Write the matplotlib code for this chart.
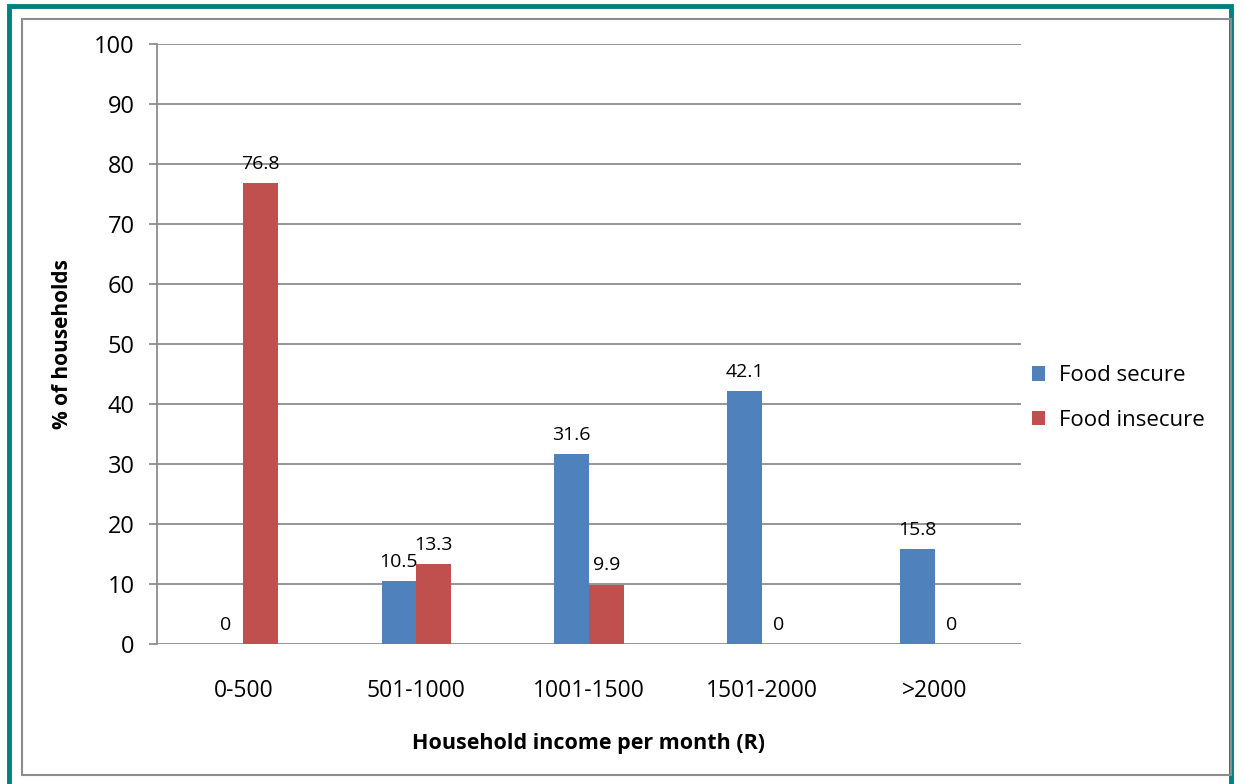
import matplotlib.pyplot as plt
import numpy as np
from matplotlib.patches import Rectangle

categories = ['0-500', '501-1000', '1001-1500', '1501-2000', '>2000']
food_secure = [0, 10.5, 31.6, 42.1, 15.8]
food_insecure = [76.8, 13.3, 9.9, 0, 0]

plt.rcParams['font.family'] = ['Open Sans', 'DejaVu Sans']

W, H = 1244, 784
fig = plt.figure(figsize=(W / 100, H / 100), dpi=100)

# outer teal frame and inner grey frame (drawn in figure pixels)
fig.patches.append(Rectangle((9 / W, -0.05), (1231 - 9) / W, (H - 6 - 0) / H + 0.05,
                             transform=fig.transFigure, fill=False,
                             edgecolor='#008080', linewidth=3.5))
fig.patches.append(Rectangle((22 / W, (H - 775) / H), (1231 - 22) / W, (775 - 19) / H,
                             transform=fig.transFigure, fill=False,
                             edgecolor='#8c8c8c', linewidth=1.5))

ax = fig.add_axes([157 / W, (H - 644) / H, (1021 - 157) / W, (644 - 44) / H])

x = np.arange(len(categories))
bw = 0.2
b1 = ax.bar(x - bw / 2, food_secure, bw, color='#4F81BD', label='Food secure')
b2 = ax.bar(x + bw / 2, food_insecure, bw, color='#C0504D', label='Food insecure')

for bars, vals in ((b1, food_secure), (b2, food_insecure)):
    for rect, v in zip(bars, vals):
        ax.annotate(f'{v:g}', (rect.get_x() + rect.get_width() / 2, v),
                    xytext=(0, 7.5), textcoords='offset points',
                    ha='center', va='bottom', fontsize=14)

ax.set_xlim(-0.5, len(categories) - 0.5)
ax.set_ylim(0, 100)
ax.set_yticks(range(0, 101, 10))
ax.set_xticks(x)
ax.set_xticklabels(categories, fontsize=16.5)
ax.tick_params(axis='y', labelsize=17, length=6, color='#8c8c8c', width=1.3, pad=10)
ax.tick_params(axis='x', length=0, pad=25)
ax.grid(axis='y', color='#8c8c8c', linewidth=1.3)
ax.set_axisbelow(True)
for s in ('top', 'right', 'bottom'):
    ax.spines[s].set_visible(False)
ax.spines['left'].set_color('#8c8c8c')
ax.spines['left'].set_linewidth(1.3)

ax.set_ylabel('% of households', fontsize=15, fontweight='bold', labelpad=15)
ax.set_xlabel('Household income per month (R)', fontsize=15.5, fontweight='bold', labelpad=22)

ax.legend(loc='center left', bbox_to_anchor=(1.0, 0.41), frameon=False,
          fontsize=16, handlelength=0.6, handleheight=0.6, labelspacing=1.05,
          handletextpad=0.6, borderaxespad=0.1)

fig.savefig('out.png', dpi=100)
